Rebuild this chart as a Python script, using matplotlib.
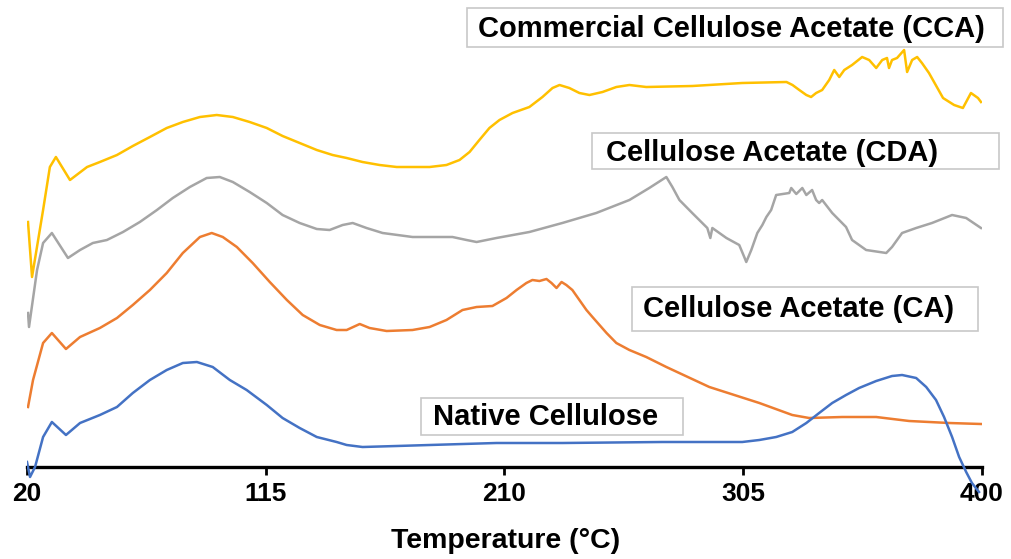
import matplotlib
matplotlib.use("Agg")
import matplotlib.pyplot as plt
from matplotlib.patches import Rectangle

# ---- data (temperature in °C, heat flow in arbitrary units) ----
native_T = [20.0, 21.2, 23.2, 26.4, 29.9, 35.5, 41.1, 49.0, 55.8, 62.1, 68.9, 75.6,
            82.0, 87.6, 93.9, 100.7, 107.4, 115.4, 121.7, 128.5, 135.3, 143.2,
            147.2, 153.5, 167.1, 180.2, 206.8, 233.0, 272.8, 304.6, 311.4, 318.1,
            324.5, 330.1, 335.2, 340.4, 345.9, 351.1, 357.9, 364.2, 368.2, 373.8,
            377.8, 381.7, 384.9, 388.1, 390.9, 393.7, 396.0, 398.8]
native_Y = [5, -10, 0, 30, 45, 32, 44, 52, 60, 74, 87, 97,
            104, 105, 100, 87, 77, 62, 49, 39, 30, 25,
            22, 20, 21, 22, 24, 24, 25, 25, 27, 30,
            35, 44, 54, 64, 72, 79, 86, 91, 92, 89,
            80, 67, 50, 30, 10, -5, -16, -25]

ca_T = [20.4, 22.4, 26.4, 29.9, 35.5, 41.1, 49.0, 55.8, 62.1, 68.9, 75.6, 82.0,
        88.8, 93.5, 97.9, 103.5, 109.8, 116.6, 123.4, 129.7, 136.5, 143.2,
        147.2, 152.4, 156.3, 163.1, 173.4, 180.2, 186.9, 193.3, 198.9, 205.2,
        210.8, 214.8, 218.7, 221.1, 223.9, 226.7, 228.7, 230.7, 232.7, 234.6,
        237.0, 239.8, 242.6, 245.0, 250.6, 254.5, 259.7, 266.4, 274.4, 291.5,
        311.4, 324.5, 331.2, 344.4, 357.9, 371.0, 386.9, 399.6]
ca_Y = [60, 87, 124, 134, 118, 130, 139, 149, 162, 177, 194, 214,
        230, 234, 230, 220, 204, 185, 167, 152, 142, 137,
        137, 143, 139, 136, 137, 140, 147, 157, 160, 161,
        169, 177, 184, 187, 186, 188, 184, 179, 185, 182,
        177, 167, 157, 150, 134, 124, 117, 110, 100, 80,
        64, 52, 49, 50, 50, 46, 44, 43]

cda_T = [20.4, 20.8, 24.0, 26.4, 29.9, 36.3, 41.1, 46.2, 51.8, 58.2, 64.9, 71.7,
         78.0, 84.8, 91.5, 96.7, 101.9, 108.6, 115.4, 121.7, 128.5, 135.3,
         140.4, 145.6, 149.6, 155.1, 161.5, 173.4, 189.3, 194.9, 198.9, 206.8,
         219.9, 233.0, 246.5, 259.7, 267.6, 274.4, 276.8, 279.6, 284.7, 288.7,
         290.7, 291.9, 292.7, 298.3, 303.4, 305.4, 306.2, 308.2, 310.6, 312.6,
         314.2, 316.1, 318.1, 323.3, 324.1, 326.1, 328.5, 330.1, 332.4, 334.0,
         335.2, 336.4, 340.4, 345.9, 348.3, 353.9, 361.9, 364.2, 368.2, 373.8,
         380.1, 388.1, 393.7, 399.6]
cda_Y = [154, 140, 197, 224, 234, 209, 217, 224, 227, 235, 245, 257,
         269, 280, 289, 290, 285, 275, 264, 252, 244, 238,
         237, 242, 244, 239, 234, 230, 230, 227, 225, 229,
         235, 244, 254, 267, 279, 290, 280, 267, 254, 244,
         239, 229, 239, 229, 222, 210, 205, 217, 234, 242,
         250, 257, 272, 274, 279, 273, 279, 272, 277, 267,
         264, 267, 254, 240, 227, 217, 214, 220, 234, 239,
         244, 252, 249, 239]

cca_T = [20.4, 22.0, 26.4, 29.1, 31.5, 37.1, 43.9, 49.0, 55.8, 62.1, 68.9, 75.6,
         82.0, 88.8, 95.5, 101.9, 108.6, 115.4, 121.7, 128.5, 135.3, 141.6,
         147.2, 153.5, 160.3, 167.1, 173.4, 180.2, 186.9, 192.1, 196.1, 200.0,
         204.0, 208.0, 213.2, 219.9, 225.1, 229.1, 231.9, 235.8, 239.8, 243.8,
         249.0, 254.5, 259.7, 266.4, 284.7, 304.6, 322.2, 324.6, 327.3, 330.1,
         332.0, 334.0, 336.4, 339.2, 341.2, 343.2, 345.2, 348.3, 352.3, 355.1,
         357.9, 360.3, 362.2, 363.0, 364.2, 366.2, 369.0, 370.2, 372.2, 374.2,
         376.1, 378.9, 384.5, 388.9, 392.4, 395.6, 398.4, 399.6]
cca_Y = [245, 190, 257, 300, 310, 287, 300, 305, 312, 321, 330, 339,
         345, 350, 352, 350, 345, 339, 331, 324, 317, 312,
         309, 305, 302, 300, 300, 300, 302, 307, 315, 327,
         339, 347, 354, 360, 370, 379, 382, 379, 374, 372,
         375, 380, 382, 380, 381, 384, 385, 382, 377, 372,
         370, 374, 377, 387, 397, 390, 397, 402, 410, 407,
         399, 407, 409, 399, 407, 409, 417, 395, 407, 410,
         404, 394, 369, 362, 359, 374, 369, 365]

x_ticks = [20, 115, 210, 305, 400]
series_labels = ["Native Cellulose", "Cellulose Acetate (CA)",
                 "Cellulose Acetate (CDA)", "Commercial Cellulose Acetate (CCA)"]
colors = ["#4472C4", "#ED7D31", "#A5A5A5", "#FFC000"]

W, H = 1012, 559
fig = plt.figure(figsize=(W / 100, H / 100), dpi=100)
ax_left, ax_right = 27 / W, 982 / W
ax_bottom = (H - 497) / H
ax = fig.add_axes([ax_left, ax_bottom, ax_right - ax_left, 1 - ax_bottom])
ax.set_xlim(20, 400)
ax.set_ylim(-30, 467)

ax.plot(cda_T, cda_Y, color=colors[2], lw=1.8, zorder=2)
ax.plot(cca_T, cca_Y, color=colors[3], lw=1.8, zorder=2)
ax.plot(ca_T, ca_Y, color=colors[1], lw=1.8, zorder=3)
ax.plot(native_T, native_Y, color=colors[0], lw=1.8, zorder=4)

for s in ["left", "top", "right"]:
    ax.spines[s].set_visible(False)
ax.spines["bottom"].set_position(("data", 0))
ax.spines["bottom"].set_linewidth(2.4)
ax.spines["bottom"].set_zorder(1)
ax.set_yticks([])
ax.set_xticks(x_ticks)
ax.set_xticklabels([str(t) for t in x_ticks], fontsize=19, fontweight="bold",
                   family=["Liberation Sans", "DejaVu Sans"])
ax.tick_params(axis="x", direction="out", length=6, width=2, pad=5, colors="black")
ax.patch.set_alpha(0)

fig.text(506 / W, 1 - 541 / H, "Temperature (°C)", ha="center", va="center",
         fontsize=20.5, fontweight="bold", family=["Liberation Sans", "DejaVu Sans"])

# label boxes: (x0, y0, x1, y1) in pixels, text start x, text center y
boxes = [
    (421, 398, 683, 435, 433, 417, series_labels[0]),
    (632, 287, 978, 331, 643, 309, series_labels[1]),
    (592, 133, 999, 169, 606, 153, series_labels[2]),
    (467, 8, 1003, 47, 478, 29, series_labels[3]),
]
for x0, y0, x1, y1, tx, ty, lab in boxes:
    fig.patches.append(Rectangle((x0 / W, 1 - y1 / H), (x1 - x0) / W, (y1 - y0) / H,
                                 transform=fig.transFigure, facecolor="white",
                                 edgecolor="#c8c8c8", lw=1.2, zorder=5))
    fig.text(tx / W, 1 - ty / H, lab, ha="left", va="center", fontsize=21,
             fontweight="bold", family=["Liberation Sans", "DejaVu Sans"], zorder=6)

fig.savefig("out.png", dpi=100)
